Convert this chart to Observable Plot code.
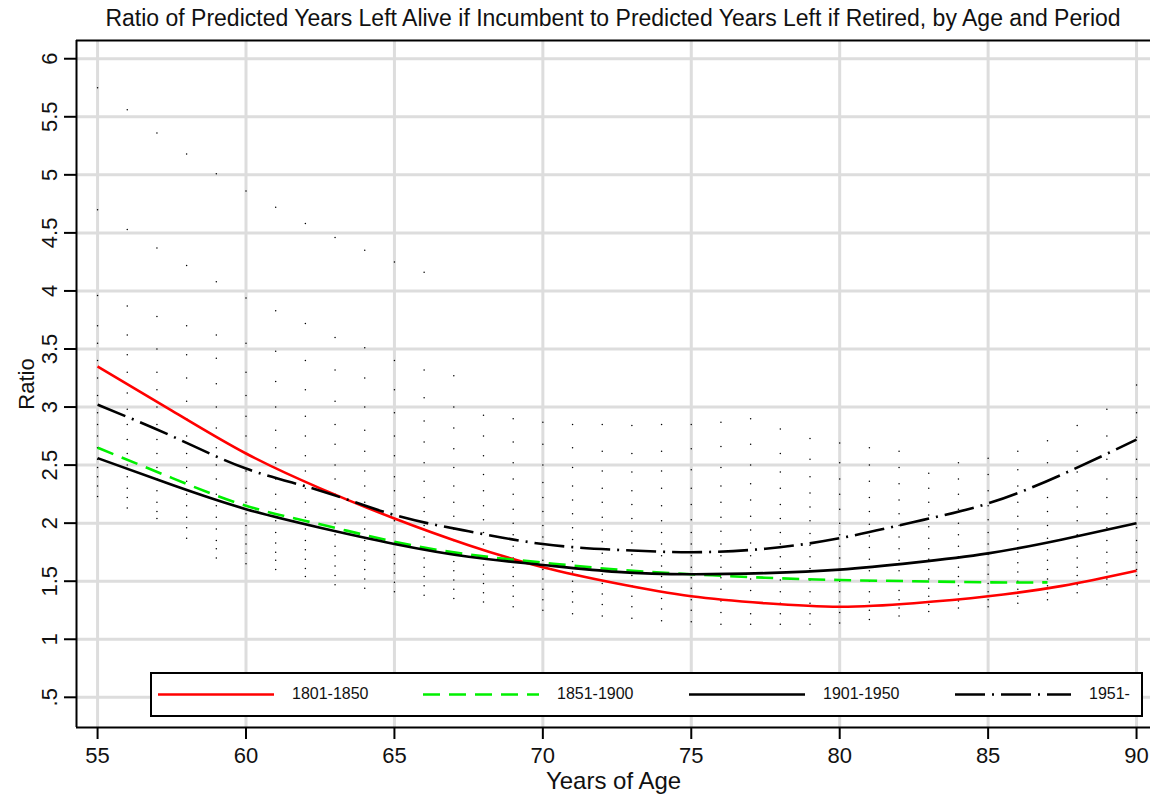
<!DOCTYPE html>
<html>
<head>
<meta charset="utf-8">
<script src="https://cdn.jsdelivr.net/npm/d3@7"></script>
<script src="https://cdn.jsdelivr.net/npm/@observablehq/plot@0.6"></script>
<style>
  body { margin: 0; background: #fff; font-family: Arial, "Liberation Sans", sans-serif; }
  #wrap { position: relative; width: 1150px; height: 794px; overflow: hidden; }
  #title { height: 36px; box-sizing: border-box; padding-top: 6px; text-align: center; font-size: 23px; line-height: 25px; color: #111; padding-left: 76px; white-space: nowrap; }
  #legend { position: absolute; left: 150px; top: 672px; width: 993px; height: 45px; box-sizing: border-box; border: 2px solid #000; background: #fff; }
  .lg-item { position: absolute; top: 0; height: 41px; }
  .lg-label { position: absolute; top: 11px; font-size: 16px; color: #111; white-space: nowrap; }
  svg text { font-family: Arial, "Liberation Sans", sans-serif; }
</style>
</head>
<body>
<div id="wrap">
  <div id="title">Ratio of Predicted Years Left Alive if Incumbent to Predicted Years Left if Retired, by Age and Period</div>
  <div id="chart"></div>
  <div id="legend"></div>
</div>
<script>
// ---- Axis ticks and labels ----
const xTicks = [55, 60, 65, 70, 75, 80, 85, 90];
const xTickLabels = ["55", "60", "65", "70", "75", "80", "85", "90"];
const yTicks = [0.5, 1, 1.5, 2, 2.5, 3, 3.5, 4, 4.5, 5, 5.5, 6];
const yTickLabels = [".5", "1", "1.5", "2", "2.5", "3", "3.5", "4", "4.5", "5", "5.5", "6"];
const xDomain = [54.29, 90.47];
const yDomain = [0.24, 6.157];

// ---- Series (fitted curves) ----
const seriesNames = ["1801-1850", "1851-1900", "1901-1950", "1951-"];
const seriesColors = ["#ff0000", "#00f000", "#000000", "#000000"];
const seriesDash = [null, "17,9", null, "30,7,2,7"];

const agesMain = [55, 57.5, 60, 62.5, 65, 67.5, 70, 72.5, 75, 77.5, 80, 82.5, 85, 87.5, 90];
const agesGreen = [55, 57.5, 60, 62.5, 65, 67.5, 70, 72.5, 75, 77.5, 80, 82.5, 85, 87];
const ratio1801 = [3.35, 2.97, 2.60, 2.30, 2.04, 1.81, 1.62, 1.48, 1.37, 1.31, 1.28, 1.31, 1.37, 1.46, 1.59];
const ratio1851 = [2.65, 2.39, 2.15, 1.99, 1.84, 1.73, 1.66, 1.60, 1.56, 1.53, 1.51, 1.50, 1.49, 1.49];
const ratio1901 = [2.56, 2.33, 2.12, 1.96, 1.82, 1.71, 1.64, 1.58, 1.56, 1.57, 1.60, 1.66, 1.74, 1.86, 2.00];
const ratio1951 = [3.02, 2.75, 2.47, 2.28, 2.07, 1.93, 1.82, 1.77, 1.75, 1.78, 1.87, 2.01, 2.17, 2.42, 2.72];

// ---- Scatter of individual predictions (by age column) ----
const dotAges = [55,56,57,58,59,60,61,62,63,64,65,66,67,68,69,70,71,72,73,74,75,76,77,78,79,80,81,82,83,84,85,86,87,88,89,90];
const dotValues = [
  [5.75,4.70,3.96,3.70,3.55,3.40,3.25,3.10,2.95,2.85,2.75,2.65,2.55,2.48,2.40,2.32,2.23],
  [5.56,4.53,3.87,3.62,3.45,3.30,3.12,2.98,2.85,2.72,2.60,2.50,2.40,2.30,2.22,2.13],
  [5.36,4.37,3.78,3.50,3.30,3.15,3.00,2.85,2.72,2.60,2.48,2.38,2.28,2.18,2.10,2.04],
  [5.18,4.22,3.70,3.45,3.25,3.05,2.90,2.75,2.60,2.48,2.36,2.25,2.15,2.05,1.96,1.87],
  [5.01,4.08,3.62,3.42,3.20,3.00,2.82,2.65,2.50,2.38,2.25,2.15,2.05,1.95,1.85,1.78,1.70],
  [4.86,3.94,3.55,3.30,3.10,2.92,2.75,2.60,2.45,2.30,2.18,2.08,1.98,1.90,1.82,1.74,1.65],
  [4.72,3.83,3.48,3.22,3.00,2.80,2.65,2.52,2.38,2.25,2.12,2.02,1.92,1.83,1.75,1.68,1.60],
  [4.58,3.72,3.40,3.15,2.92,2.75,2.58,2.45,2.30,2.18,2.05,1.95,1.85,1.77,1.69,1.61,1.54],
  [4.46,3.60,3.32,3.05,2.85,2.68,2.50,2.38,2.25,2.12,2.00,1.90,1.80,1.72,1.63,1.55,1.47],
  [4.35,3.51,3.25,3.00,2.80,2.62,2.45,2.32,2.18,2.05,1.95,1.85,1.76,1.68,1.60,1.52,1.44],
  [4.25,3.40,3.15,2.95,2.75,2.58,2.40,2.28,2.15,2.02,1.92,1.82,1.73,1.65,1.57,1.49,1.41],
  [4.16,3.32,3.08,2.88,2.70,2.52,2.36,2.22,2.10,1.98,1.88,1.78,1.70,1.62,1.54,1.46,1.38],
  [3.27,3.00,2.82,2.64,2.48,2.32,2.18,2.06,1.95,1.85,1.75,1.67,1.59,1.51,1.43,1.35],
  [2.93,2.75,2.58,2.42,2.28,2.15,2.03,1.92,1.82,1.72,1.64,1.56,1.48,1.40,1.32],
  [2.90,2.70,2.52,2.38,2.25,2.12,2.00,1.90,1.80,1.70,1.62,1.54,1.46,1.37,1.28],
  [2.87,2.68,2.50,2.35,2.22,2.10,1.98,1.88,1.78,1.68,1.60,1.52,1.43,1.34,1.25],
  [2.85,2.65,2.48,2.32,2.20,2.08,1.96,1.86,1.76,1.67,1.58,1.50,1.41,1.32,1.22],
  [2.85,2.62,2.45,2.30,2.18,2.05,1.94,1.84,1.74,1.65,1.56,1.48,1.39,1.30,1.20],
  [2.84,2.60,2.44,2.28,2.16,2.04,1.93,1.83,1.73,1.64,1.55,1.46,1.37,1.28,1.18],
  [2.85,2.62,2.45,2.30,2.15,2.02,1.92,1.82,1.72,1.63,1.54,1.45,1.35,1.26,1.16],
  [2.85,2.64,2.46,2.30,2.16,2.03,1.92,1.82,1.72,1.62,1.53,1.44,1.34,1.25,1.15],
  [2.87,2.66,2.48,2.32,2.18,2.05,1.93,1.82,1.72,1.62,1.53,1.43,1.33,1.23,1.13],
  [2.90,2.68,2.50,2.34,2.20,2.06,1.94,1.83,1.72,1.62,1.52,1.42,1.32,1.22,1.13],
  [2.81,2.60,2.44,2.30,2.16,2.04,1.92,1.82,1.71,1.61,1.51,1.41,1.31,1.22,1.13],
  [2.73,2.55,2.40,2.26,2.14,2.02,1.91,1.81,1.71,1.61,1.51,1.41,1.31,1.22,1.13],
  [2.69,2.52,2.38,2.25,2.12,2.00,1.90,1.80,1.70,1.60,1.50,1.41,1.32,1.23,1.14],
  [2.65,2.50,2.36,2.22,2.10,1.99,1.89,1.79,1.69,1.59,1.50,1.41,1.32,1.25,1.17],
  [2.62,2.48,2.34,2.20,2.08,1.98,1.88,1.78,1.68,1.59,1.50,1.42,1.34,1.27,1.20],
  [2.43,2.30,2.18,2.07,1.97,1.87,1.78,1.69,1.60,1.52,1.44,1.37,1.30,1.24],
  [2.52,2.38,2.25,2.12,2.00,1.90,1.80,1.71,1.62,1.54,1.46,1.39,1.33,1.27],
  [2.56,2.42,2.28,2.15,2.03,1.92,1.82,1.73,1.64,1.56,1.48,1.41,1.34,1.28],
  [2.62,2.46,2.32,2.18,2.06,1.95,1.85,1.75,1.66,1.58,1.50,1.43,1.37,1.31],
  [2.71,2.52,2.36,2.22,2.10,1.98,1.87,1.77,1.68,1.60,1.52,1.46,1.40,1.34],
  [2.84,2.62,2.44,2.28,2.14,2.02,1.90,1.80,1.70,1.62,1.55,1.47,1.40],
  [2.98,2.75,2.55,2.38,2.22,2.08,1.96,1.85,1.75,1.66,1.58,1.52,1.47],
  [3.19,2.95,2.74,2.55,2.38,2.22,2.08,1.96,1.85,1.75,1.66,1.60,1.55]
];

// ---- Build tables ----
const dots = dotAges.flatMap((a, i) => dotValues[i].map(v => ({age: a, ratio: v})));
const mk = (ages, vals, s) => ages.map((a, i) => ({age: a, ratio: vals[i], series: s}));
const lines = [
  mk(agesMain, ratio1801, 0),
  mk(agesGreen, ratio1851, 1),
  mk(agesMain, ratio1901, 2),
  mk(agesMain, ratio1951, 3)
];

const gridColor = "#dddddd";
const chart = Plot.plot({
  width: 1150,
  height: 758,
  marginLeft: 76,
  marginRight: 0,
  marginTop: 4,
  marginBottom: 67,
  style: {background: "#fff", fontFamily: "Arial, 'Liberation Sans', sans-serif", color: "#111"},
  x: {domain: xDomain},
  y: {domain: yDomain},
  marks: [
    Plot.gridX(xTicks, {stroke: gridColor, strokeOpacity: 1, strokeWidth: 3}),
    Plot.gridY(yTicks, {stroke: gridColor, strokeOpacity: 1, strokeWidth: 3}),
    Plot.dot(dots, {x: "age", y: "ratio", r: 0.75, fill: "#000", stroke: null}),
    ...lines.map((d, i) => Plot.line(d, {
      x: "age", y: "ratio", curve: "natural",
      stroke: seriesColors[i], strokeWidth: 2.6,
      strokeDasharray: seriesDash[i] || undefined,
      strokeLinecap: "butt"
    })),
    Plot.ruleX([xDomain[0]], {stroke: "#000", strokeWidth: 2}),
    Plot.ruleY([yDomain[0]], {stroke: "#000", strokeWidth: 2}),
    Plot.ruleY([yDomain[1]], {stroke: "#000", strokeWidth: 2}),
    Plot.axisX(xTicks, {
      tickFormat: (d, i) => xTickLabels[i], tickSize: 12, tickPadding: 8,
      fontSize: 22, stroke: "#000", strokeWidth: 2,
      label: null
    }),
    Plot.axisX({
      ticks: [], tickSize: 0,
      fontSize: 24, label: "Years of Age", labelAnchor: "center", labelOffset: 61, labelArrow: "none"
    }),
    Plot.axisY(yTicks, {
      tickFormat: (d, i) => yTickLabels[i], tickSize: 12, tickPadding: 8,
      tickRotate: -90, fontSize: 22, stroke: "#000", strokeWidth: 2,
      label: null
    }),
    Plot.axisY({
      ticks: [], tickSize: 0,
      fontSize: 22, label: "Ratio", labelAnchor: "center", labelOffset: 58, labelArrow: "none"
    })
  ]
});
document.getElementById("chart").appendChild(chart);

// ---- Legend ----
const legend = document.getElementById("legend");
const legendStarts = [6, 271, 537, 803]; // relative to legend box
seriesNames.forEach((name, i) => {
  const item = document.createElement("div");
  item.className = "lg-item";
  item.style.left = legendStarts[i] + "px";
  const svgNS = "http://www.w3.org/2000/svg";
  const s = document.createElementNS(svgNS, "svg");
  s.setAttribute("width", 118); s.setAttribute("height", 41);
  s.style.position = "absolute"; s.style.left = "0px"; s.style.top = "0px";
  const ln = document.createElementNS(svgNS, "line");
  ln.setAttribute("x1", 0); ln.setAttribute("x2", 116);
  ln.setAttribute("y1", 20.5); ln.setAttribute("y2", 20.5);
  ln.setAttribute("stroke", seriesColors[i]); ln.setAttribute("stroke-width", 2.6);
  if (seriesDash[i]) ln.setAttribute("stroke-dasharray", seriesDash[i]);
  s.appendChild(ln);
  item.appendChild(s);
  const lab = document.createElement("div");
  lab.className = "lg-label";
  lab.style.left = "134px";
  lab.textContent = name;
  item.appendChild(lab);
  legend.appendChild(item);
});
</script>
</body>
</html>
